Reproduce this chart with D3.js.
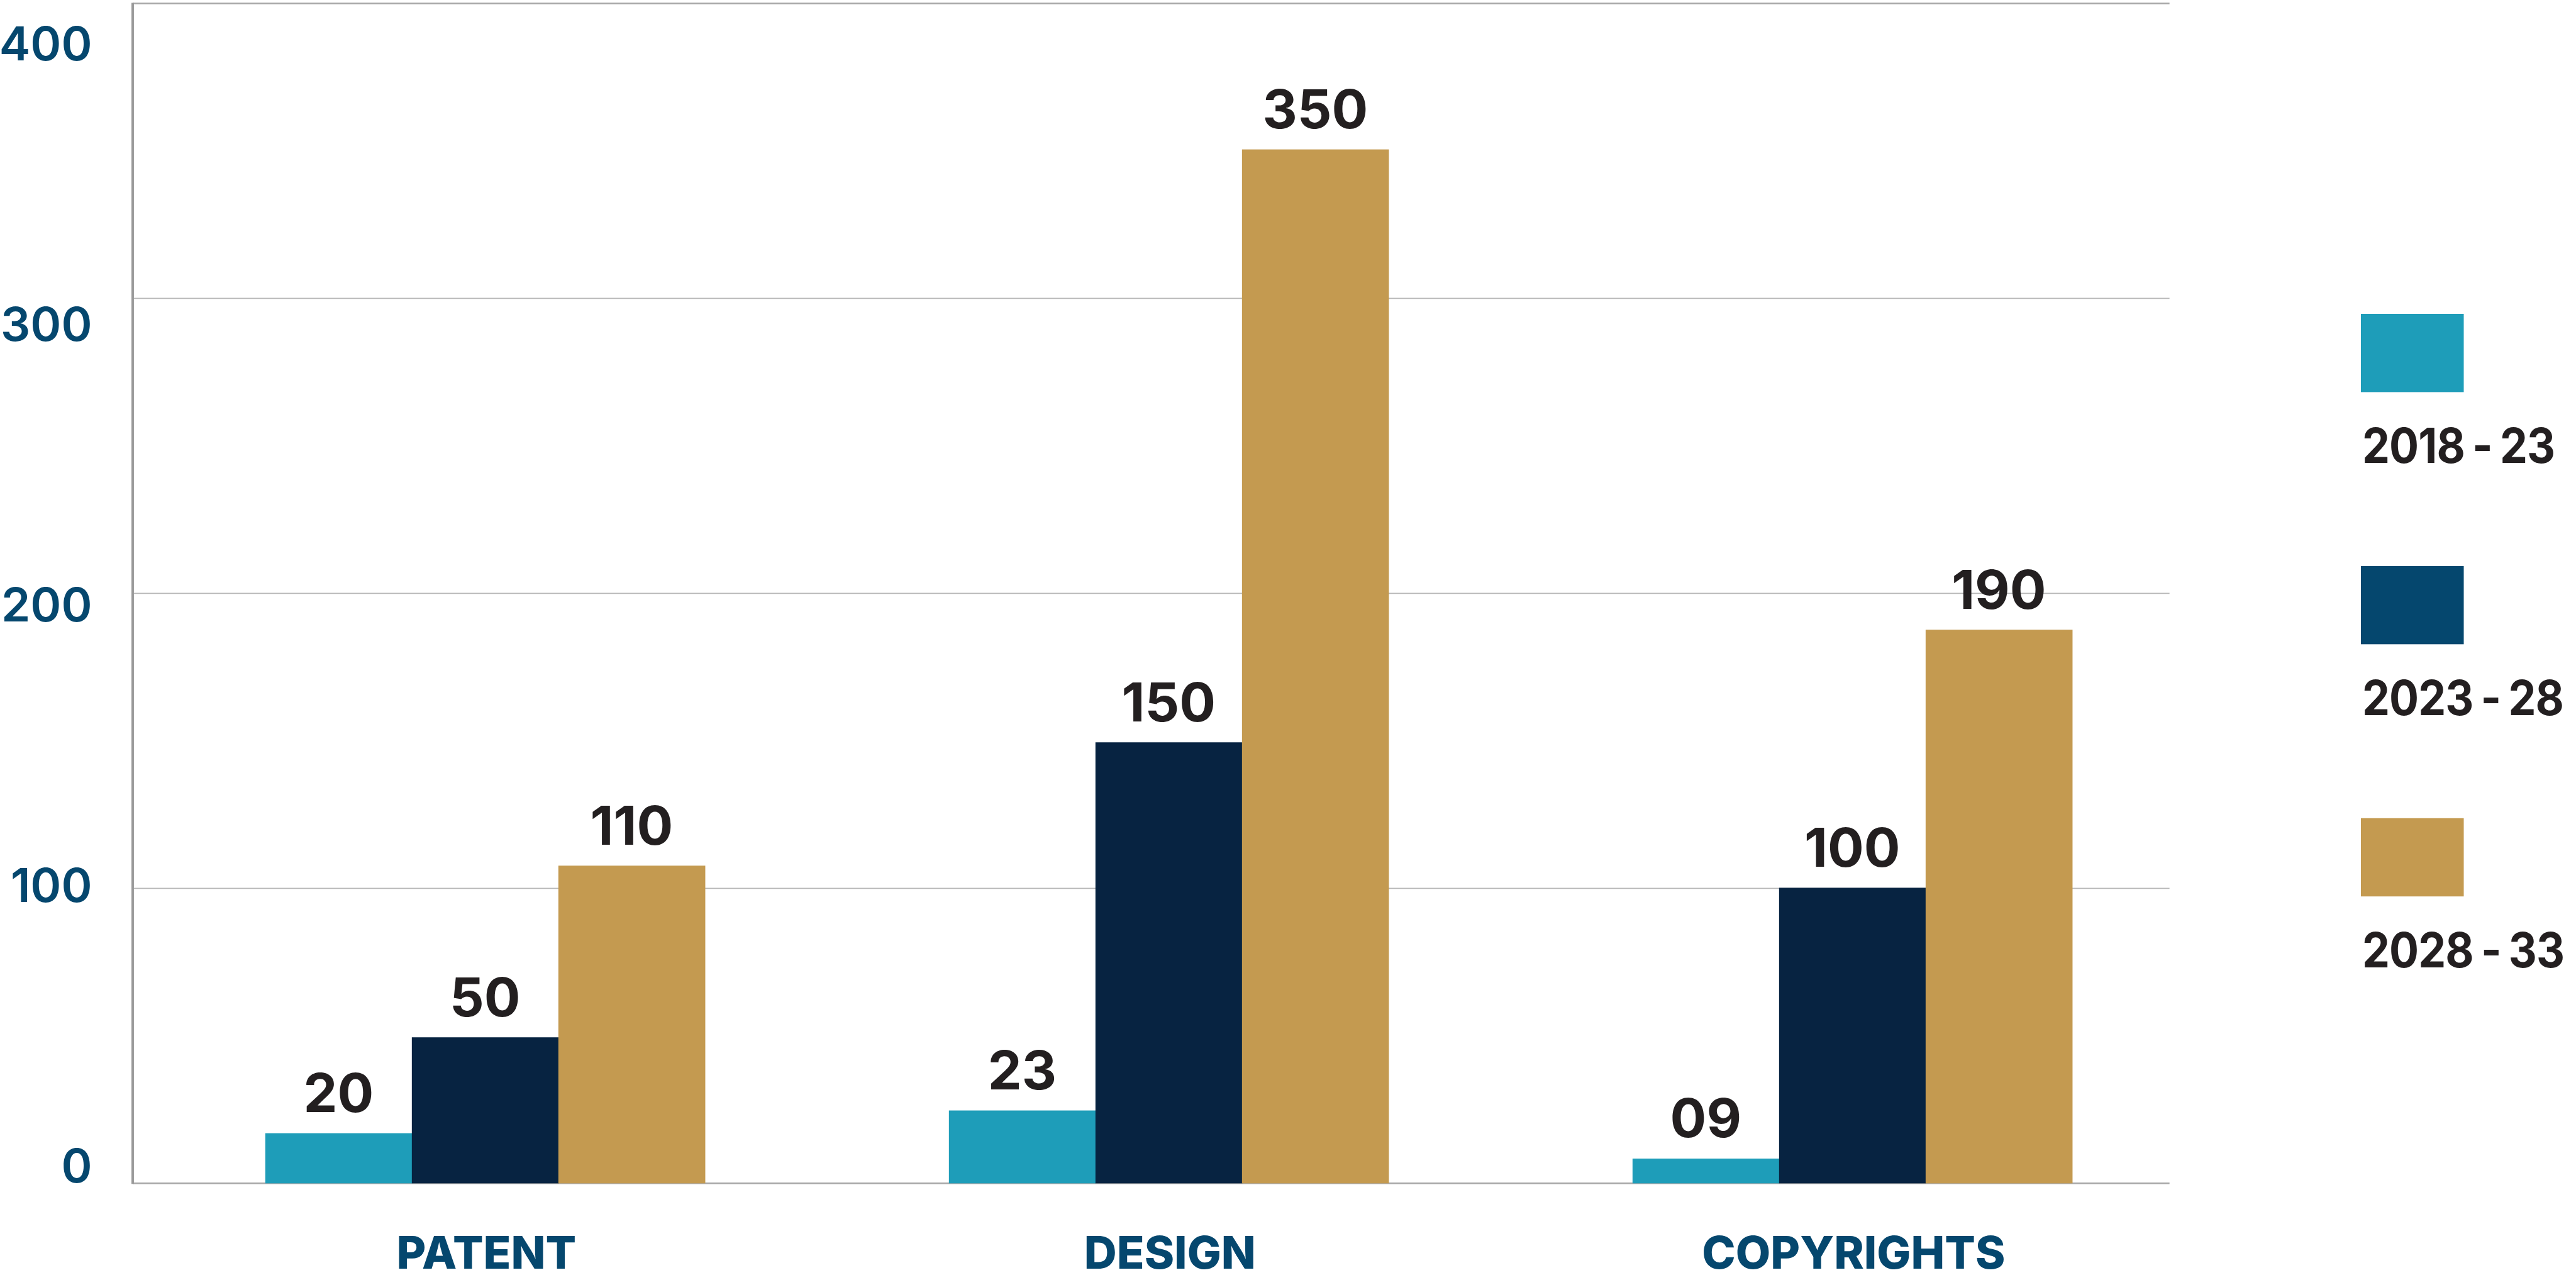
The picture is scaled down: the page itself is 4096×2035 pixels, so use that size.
<!DOCTYPE html>
<html>
<head>
<meta charset="utf-8">
<script src="https://cdn.jsdelivr.net/npm/d3@7"></script>
<style>
  html, body { margin: 0; padding: 0; background: #ffffff; overflow: hidden; }
  svg { display: block; }
</style>
</head>
<body>
<script>
// ---- data ----
const categories = ["PATENT", "DESIGN", "COPYRIGHTS"];
const seriesNames = ["2018 - 23", "2023 - 28", "2028 - 33"];
const values2018 = [17, 24.7, 8.4];
const values2023 = [49.5, 149.5, 100.2];
const values2028 = [107.7, 350.5, 187.7];
const labels2018 = ["20", "23", "09"];
const labels2023 = ["50", "150", "100"];
const labels2028 = ["110", "350", "190"];
const yTickValues = [0, 100, 200, 300, 400];
const yTickLabels = ["0", "100", "200", "300", "400"];

// ---- styles ----
const barColors = ["#1E9DB9", "#072341", "#C49A50"];
const legendColors = ["#1E9DB9", "#05476E", "#C49A50"];
const axisBlue = "#05476E";
const labelDark = "#231F20";
const FONT = "Inter, 'Open Sans', Roboto, sans-serif";

const W = 4158, H = 2066;
const svg = d3.select("body").append("svg")
  .attr("width", 4096).attr("height", 2035)
  .attr("viewBox", `0 0 ${W} ${H}`);

const seriesValues = [values2018, values2023, values2028];
const seriesLabels = [labels2018, labels2023, labels2028];

const x0 = d3.scaleBand().domain(categories)
  .range([231.1, 3541.8]).paddingInner(0.3569).paddingOuter(0.3569 / 2);
const x1 = d3.scaleBand().domain(seriesNames).range([0, x0.bandwidth()]);
const y = d3.scaleLinear().domain([0, 400]).range([1910, 5.5]);
const yLabelPos = d3.scaleLinear().domain([0, 400]).range([1881.5, 69.5]);

const plotLeft = 214, plotRight = 3502;

// gridlines
svg.append("g").selectAll("line").data(yTickValues).join("line")
  .attr("x1", plotLeft).attr("x2", plotRight)
  .attr("y1", d => y(d)).attr("y2", d => y(d))
  .attr("stroke", d => (d === 0 || d === 400) ? "#a6a6a6" : "#b8b8b8")
  .attr("stroke-width", d => (d === 0 || d === 400) ? 2.5 : 1.6);

// y tick labels
svg.append("g").selectAll("text").data(yTickValues).join("text")
  .attr("x", 148.5)
  .attr("y", d => yLabelPos(d) + 27.5)
  .attr("text-anchor", "end")
  .attr("font-family", FONT).attr("font-weight", 600)
  .attr("font-size", 75.5).attr("fill", axisBlue)
  .text((d, i) => yTickLabels[i]);

// bars
const rows = [];
categories.forEach((c, ci) => {
  seriesNames.forEach((s, si) => {
    rows.push({ c, s, si, v: seriesValues[si][ci], label: seriesLabels[si][ci] });
  });
});

svg.append("g").selectAll("rect").data(rows).join("rect")
  .attr("x", d => x0(d.c) + x1(d.s))
  .attr("width", x1.bandwidth() + 0.6)
  .attr("y", d => y(d.v))
  .attr("height", d => y(0) - y(d.v))
  .attr("fill", d => barColors[d.si]);

// y axis line
svg.append("line")
  .attr("x1", plotLeft).attr("x2", plotLeft)
  .attr("y1", y(400) - 1).attr("y2", y(0) + 1)
  .attr("stroke", "#999999").attr("stroke-width", 4);

// value labels
svg.append("g").selectAll("text").data(rows).join("text")
  .attr("x", d => x0(d.c) + x1(d.s) + x1.bandwidth() / 2)
  .attr("y", d => y(d.v) - 34)
  .attr("text-anchor", "middle")
  .attr("font-family", FONT).attr("font-weight", 700)
  .attr("font-size", 87).attr("fill", labelDark)
  .text(d => d.label);

// category labels
svg.append("g").selectAll("text").data(categories).join("text")
  .attr("x", d => x0(d) + x0.bandwidth() / 2 + 2)
  .attr("y", 2048)
  .attr("text-anchor", "middle")
  .attr("font-family", FONT).attr("font-weight", 800)
  .attr("font-size", 73).attr("fill", axisBlue)
  .text(d => d);

// legend
const legend = svg.append("g").selectAll("g").data(seriesNames).join("g")
  .attr("transform", (d, i) => `translate(3811, ${506.6 + i * 407})`);
legend.append("rect")
  .attr("width", 166).attr("height", 126.3)
  .attr("fill", (d, i) => legendColors[i]);
const legendText = legend.append("text")
  .attr("x", 0).attr("y", 0)
  .attr("font-family", FONT).attr("font-weight", 700)
  .attr("font-size", 78).attr("fill", labelDark)
  .attr("letter-spacing", -1)
  .attr("word-spacing", -4)
  .text(d => d);
// condense legend text horizontally so every entry fits inside the page
const widths = legendText.nodes().map(n => n.getBBox().width);
const sx = Math.min(1, 326 / d3.max(widths));
legendText.attr("transform", `translate(2, 240.5) scale(${sx}, 1)`);
</script>
</body>
</html>
